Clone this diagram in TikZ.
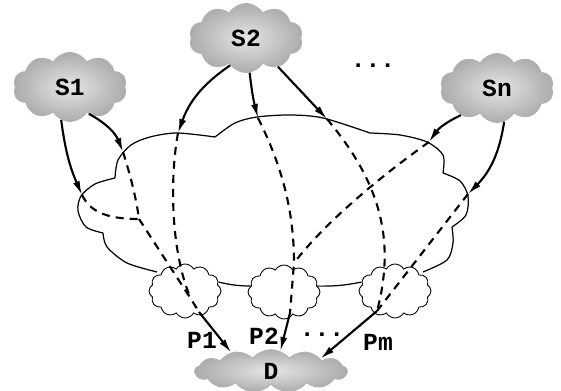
\documentclass[tikz,border=0pt]{standalone}
\usepackage{fontspec}
\setmonofont{Liberation Mono}
\usetikzlibrary{shapes.symbols,arrows.meta}

\begin{document}
\begin{tikzpicture}[x=0.02cm, y=0.02cm,
    source/.style={cloud, cloud puffs=10, cloud puff arc=120, cloud ignores aspect,
      minimum width=2.26cm, minimum height=1.38cm, inner color=gray!20, outer color=gray!65,
      draw=gray!60, line width=0.6pt, font=\fontsize{14}{16}\ttfamily\bfseries},
    relay/.style={cloud, cloud puffs=12, cloud puff arc=120, cloud ignores aspect,
      minimum width=1.44cm, minimum height=1.08cm, draw, fill=white, line width=0.5pt},
    lbl/.style={font=\fontsize{14}{16}\ttfamily\bfseries},
    flow/.style={line width=1.2pt, -{Latex[length=8pt,width=4pt]}},
    hidden/.style={line width=1.2pt, dash pattern=on 4.5pt off 3.5pt}]

  \useasboundingbox (0,0) rectangle (561,391);

  % the network
  \draw [line width=0.7pt]
    plot [smooth] coordinates {(157,119) (127,128) (107,144) (103,158)}
    plot [smooth] coordinates {(103,158) (86,164) (78,180) (81,195) (95,207) (115,213)}
    plot [smooth] coordinates {(115,213) (118,231) (131,246) (150,254) (177,258) (215,254)}
    plot [smooth] coordinates {(215,254) (235,268) (257,274) (290,276) (323,273) (370,258)}
    plot [smooth] coordinates {(370,258) (400,256) (427,249) (443,236) (443,218)}
    plot [smooth] coordinates {(443,218) (460,210) (468,195) (466,176) (452,164)}
    plot [smooth] coordinates {(452,164) (453,148) (447,131) (423,119)};

  \node [relay] (c1) at (185,100) {};
  \node [relay] (c2) at (284,99) {};
  \node [relay] (c3) at (395,100) {};
  \draw [line width=0.7pt] (c1.15) to [bend right=6] (c2.170);
  \draw [line width=0.7pt] (c2.10) to [bend right=6] (c3.165);

  \node [source] (s1) at (70,304) {S1};
  \node [source] (s2) at (246,353) {S2};
  \node [source] (sn) at (497,303) {Sn};
  \node [source, cloud puffs=13, cloud puff arc=100, minimum width=3.04cm,
    minimum height=0.78cm] (d) at (271,20) {D};

  \node [lbl] (top) at (373,325) {...};
  \node [lbl] (bot) at (322,56) {...};
  \node [lbl] (p1) at (202,51) {P1};
  \node [lbl] (p2) at (264,55) {P2};
  \node [lbl] (pm) at (378,49) {Pm};

  % where the paths enter and meet
  \coordinate (e1) at (82,196);
  \coordinate (e2) at (123,239);
  \coordinate (e3) at (178,258);
  \coordinate (e4) at (258,273);
  \coordinate (e5) at (327,272);
  \coordinate (e6) at (429,249);
  \coordinate (e7) at (468,197);
  \coordinate (j1) at (139,172);
  \coordinate (j2) at (191,92);
  \coordinate (j3) at (294,128);
  \coordinate (k1) at (199,79);
  \coordinate (k2) at (290,78);
  \coordinate (k3) at (377,80);

  \draw [hidden] (e1) .. controls (90,180) and (105,172) .. (j1);
  \draw [hidden] (e2) .. controls (129,220) and (136,195) .. (j1);
  \draw [hidden] (j1) -- (j2) -- (k1);
  \draw [hidden] (e3) .. controls (170,215) and (170,140) .. (j2);
  \draw [hidden] (e4) .. controls (282,225) and (294,180) .. (j3) -- (k2);
  \draw [hidden] (e6) .. controls (395,225) and (330,175) .. (j3);
  \draw [hidden] (e5) to [out=-50, in=75] (k3);
  \draw [hidden] (e7) -- (k3);

  \draw [flow] (s1.255) to [bend right=8] (e1);
  \draw [flow] (s1.305) to [bend left=20] (e2);
  \draw [flow] (s2.240) to [bend right=18] (e3);
  \draw [flow] (s2.276) to [bend right=4] (e4);
  \draw [flow] (s2.318) -- (e5);
  \draw [flow] (sn.217) to [bend right=15] (e6);
  \draw [flow] (sn.282) to [bend left=18] (e7);
  \draw [flow] (k1) -- (d.155);
  \draw [flow] (k2) -- (d.65);
  \draw [flow] (k3) -- (d.14);
\end{tikzpicture}
\end{document}
